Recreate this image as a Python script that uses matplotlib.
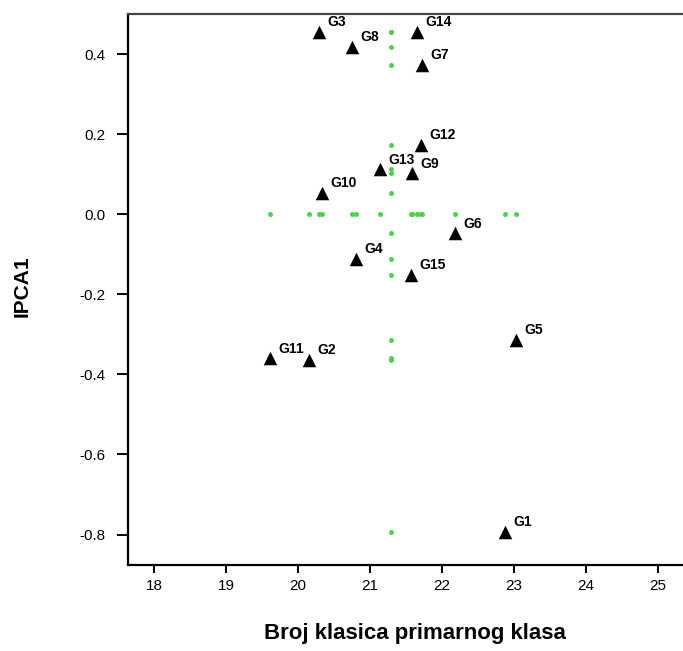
import numpy as np
import matplotlib
matplotlib.use('Agg')
import matplotlib.pyplot as plt
from matplotlib.ticker import FormatStrFormatter

plt.rcParams['font.family'] = ['Liberation Sans', 'DejaVu Sans']

# genotypes: number of spikelets (x) vs IPCA1 score (y)
labels = ['G1', 'G2', 'G3', 'G4', 'G5', 'G6', 'G7', 'G8',
          'G9', 'G10', 'G11', 'G12', 'G13', 'G14', 'G15']
klasice = [22.88, 20.15, 20.29, 20.81, 23.03, 22.18, 21.73, 20.75,
           21.58, 20.34, 19.61, 21.71, 21.14, 21.65, 21.57]
ipca1 = [-0.793, -0.364, 0.455, -0.112, -0.313, -0.048, 0.373, 0.418,
         0.102, 0.054, -0.360, 0.173, 0.112, 0.455, -0.152]

x = np.array(klasice)
y = np.array(ipca1)
x_mean = x.mean()

fig = plt.figure(figsize=(6.83, 6.51), dpi=100)
ax = fig.add_axes([128 / 683, 1 - 565 / 651, 1 - 128 / 683, (565 - 14) / 651])

green = '#4fd14f'
# projections of the genotypes onto the axes (mean column and zero row)
ax.scatter(np.full_like(y, x_mean), y, s=13, color=green, zorder=2, linewidths=0)
ax.scatter(x, np.zeros_like(x), s=13, color=green, zorder=2, linewidths=0)

ax.scatter(x, y, marker='^', s=95, color='black', zorder=3, linewidths=0)
for lx, ly, lab in zip(x, y, labels):
    ax.annotate(lab, (lx, ly), xytext=(6, 2), textcoords='offset points',
                ha='left', va='bottom', fontsize=10, fontweight='bold')

ax.set_xlim(17.64, 25.35)
ax.set_ylim(-0.876, 0.5)
ax.set_xticks(range(18, 26))
ax.set_yticks([0.4, 0.2, 0.0, -0.2, -0.4, -0.6, -0.8])
ax.yaxis.set_major_formatter(FormatStrFormatter('%.1f'))

ax.spines['right'].set_visible(False)
for s in ['top', 'left', 'bottom']:
    ax.spines[s].set_linewidth(1.6)
ax.spines['top'].set_color('#444444')
ax.tick_params(direction='out', length=6, width=1.4, labelsize=11, pad=4)
ax.tick_params(axis='y', length=8, pad=8)

fig.text(415 / 683, 1 - 633 / 651, 'Broj klasica primarnog klasa',
         ha='center', va='center', fontsize=16, fontweight='bold')
fig.text(0.032, 0.56, 'IPCA1', rotation=90, ha='center', va='center',
         fontsize=15, fontweight='bold')

fig.savefig('out.png', dpi=100)
